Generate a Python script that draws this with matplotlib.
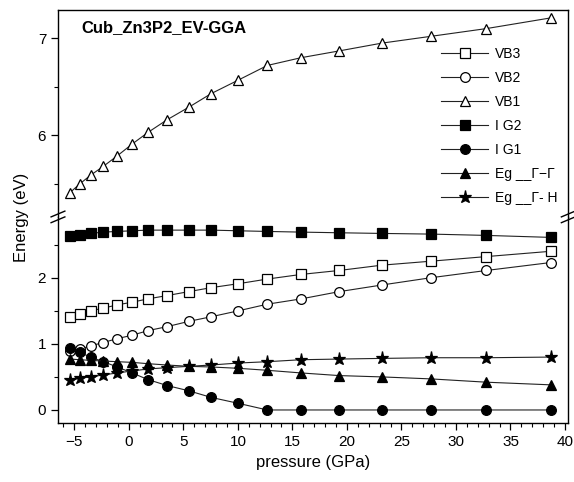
import numpy as np
import matplotlib
matplotlib.use("Agg")
import matplotlib.pyplot as plt

plt.rcParams['font.family'] = ['Liberation Sans', 'DejaVu Sans']

# pressure points (GPa)
pressure = [-5.4, -4.5, -3.5, -2.35, -1.05, 0.3, 1.75, 3.5, 5.5, 7.55,
            10.05, 12.7, 15.8, 19.3, 23.2, 27.7, 32.8, 38.7]

vb3 = [1.41, 1.45, 1.50, 1.54, 1.59, 1.63, 1.68, 1.73, 1.79, 1.85,
       1.91, 1.98, 2.05, 2.11, 2.19, 2.25, 2.32, 2.40]
vb2 = [0.89, 0.92, 0.97, 1.02, 1.08, 1.13, 1.20, 1.26, 1.34, 1.41,
       1.50, 1.60, 1.68, 1.79, 1.89, 2.00, 2.11, 2.23]
vb1 = [5.41, 5.50, 5.59, 5.68, 5.79, 5.91, 6.03, 6.16, 6.29, 6.43,
       6.57, 6.72, 6.80, 6.87, 6.95, 7.02, 7.10, 7.21]
ig2 = [2.63, 2.65, 2.67, 2.69, 2.70, 2.71, 2.72, 2.72, 2.72, 2.72,
       2.71, 2.70, 2.69, 2.68, 2.67, 2.66, 2.64, 2.61]
ig1 = [0.94, 0.87, 0.80, 0.73, 0.65, 0.56, 0.46, 0.37, 0.29, 0.19,
       0.10, 0.0, 0.0, 0.0, 0.0, 0.0, 0.0, 0.0]
eg_gg = [0.77, 0.76, 0.75, 0.74, 0.73, 0.72, 0.70, 0.68, 0.66, 0.65,
         0.63, 0.60, 0.56, 0.52, 0.50, 0.47, 0.42, 0.38]
eg_gh = [0.45, 0.48, 0.50, 0.53, 0.56, 0.59, 0.62, 0.64, 0.66, 0.68,
         0.71, 0.73, 0.76, 0.77, 0.78, 0.79, 0.79, 0.80]

series = [
    (vb3, 's', 'white', 'VB3'),
    (vb2, 'o', 'white', 'VB2'),
    (vb1, '^', 'white', 'VB1'),
    (ig2, 's', 'black', 'I G2'),
    (ig1, 'o', 'black', 'I G1'),
    (eg_gg, '^', 'black', 'Eg __\u0393\u2212\u0393'),
    (eg_gh, '*', 'black', 'Eg __\u0393- H'),
]

left, width = 0.101, 0.889
fig = plt.figure(figsize=(5.74, 4.82), dpi=100)
ax_top = fig.add_axes([left, 0.550, width, 0.429])
ax_bot = fig.add_axes([left, 0.122, width, 0.428])

for ax in (ax_top, ax_bot):
    for vals, m, fc, lab in series:
        ms = 9.5 if m == '*' else 7
        ax.plot(pressure, vals, color='#222222', lw=0.8, marker=m, ms=ms,
                mfc=fc, mec='black', mew=0.9, label=lab)
    ax.set_xlim(-6.5, 40.3)
    ax.tick_params(which='major', direction='out', length=5, width=0.9,
                   labelsize=11)
    ax.tick_params(which='minor', direction='out', length=3, width=0.8)
    for s in ax.spines.values():
        s.set_linewidth(1.0)

ax_top.set_ylim(5.16, 7.29)
ax_top.set_yticks([6, 7])
ax_top.set_yticks([5.5, 6.5], minor=True)
ax_top.spines['bottom'].set_visible(False)
ax_top.tick_params(axis='x', which='both', bottom=False, labelbottom=False)

ax_bot.set_ylim(-0.2, 2.92)
ax_bot.set_yticks([0, 1, 2])
ax_bot.set_yticks([0.5, 1.5, 2.5], minor=True)
ax_bot.spines['top'].set_visible(False)
ax_bot.set_xticks(np.arange(-5, 41, 5))
ax_bot.set_xticks(np.arange(-6, 41, 1), minor=True)
ax_bot.set_xlabel('pressure (GPa)', fontsize=12)

# break marks on left and right spines
d = 0.012
for xp in (left, left + width):
    for off in (-0.006, 0.006):
        fig.add_artist(plt.Line2D([xp - d, xp + d],
                                  [0.550 + off - d * 0.5, 0.550 + off + d * 0.5],
                                  color='black', lw=1.0,
                                  transform=fig.transFigure))

ax_top.text(0.045, 0.915, 'Cub_Zn3P2_EV-GGA', transform=ax_top.transAxes,
            fontsize=12, fontweight='bold', va='center')

fig.text(0.038, 0.55, 'Energy (eV)', rotation=90, va='center', ha='center',
         fontsize=12)

handles, labels = ax_top.get_legend_handles_labels()
ax_top.legend(handles, labels, loc='upper left', bbox_to_anchor=(0.74, 0.85),
              frameon=False, fontsize=10, handlelength=3.4, labelspacing=0.72,
              borderaxespad=0, handletextpad=0.5)

fig.savefig('out.png', dpi=100)
